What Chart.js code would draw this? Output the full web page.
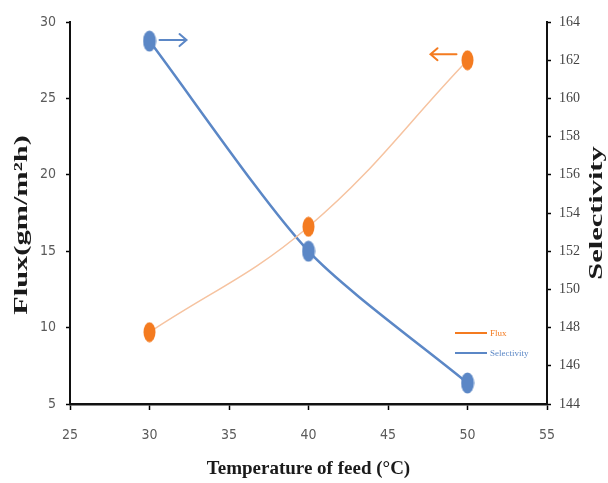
<!DOCTYPE html>
<html>
<head>
<meta charset="utf-8">
<script src="https://cdn.jsdelivr.net/npm/chart.js@4.4.1/dist/chart.umd.min.js"></script>
<style>
html,body{margin:0;padding:0;background:#fff;}
#wrap{width:608px;height:483px;position:relative;}
</style>
</head>
<body>
<div id="wrap"><canvas id="c"></canvas></div>
<script>
const temperatures = [30, 40, 50];
const fluxValues = [9.7, 16.6, 27.5];
const selectivityValues = [163.0, 152.0, 145.1];
const xTicks = [25, 30, 35, 40, 45, 50, 55];
const fluxTicks = [5, 10, 15, 20, 25, 30];
const selectivityTicks = [144, 146, 148, 150, 152, 154, 156, 158, 160, 162, 164];

const ORANGE = '#f47b20';
const ORANGE_LINE = '#f6c3a0';
const BLUE = '#5b87c6';

function ellipse(color, w, h) {
  const c = document.createElement('canvas');
  c.width = w; c.height = h;
  const g = c.getContext('2d');
  g.fillStyle = color;
  g.beginPath();
  g.ellipse(w / 2, h / 2, w / 2 - 0.5, h / 2 - 0.5, 0, 0, Math.PI * 2);
  g.fill();
  return c;
}

function arrow(ctx, x1, x2, y, color, headLeft) {
  ctx.save();
  ctx.strokeStyle = color;
  ctx.lineWidth = 2;
  ctx.lineCap = 'round';
  ctx.beginPath();
  ctx.moveTo(x1, y); ctx.lineTo(x2, y);
  const hx = headLeft ? x1 : x2;
  const d = headLeft ? 1 : -1;
  ctx.moveTo(hx + d * 7, y - 6); ctx.lineTo(hx, y); ctx.lineTo(hx + d * 7, y + 6);
  ctx.stroke();
  ctx.restore();
}

function stretchedTitle(ctx, text, x, y) {
  ctx.save();
  ctx.fillStyle = '#1a1a1a';
  ctx.font = 'bold 19px "Liberation Serif", "Times New Roman", serif';
  ctx.textAlign = 'center';
  ctx.textBaseline = 'middle';
  ctx.translate(x, y);
  ctx.rotate(-Math.PI / 2);
  ctx.scale(1.6, 1);
  ctx.fillText(text, 0, 0);
  ctx.restore();
}

const decor = {
  id: 'decor',
  afterDraw(chart) {
    const ctx = chart.ctx;
    const area = chart.chartArea;
    const mid = (area.top + area.bottom) / 2;
    stretchedTitle(ctx, 'Flux(gm/m²h)', 22, mid + 12);
    stretchedTitle(ctx, 'Selectivity', 597, mid);

    // arrows
    const pf = chart.getDatasetMeta(0).data[2];
    const ps = chart.getDatasetMeta(1).data[0];
    if (pf) arrow(ctx, pf.x - 37, pf.x - 11, pf.y - 6, ORANGE, true);
    if (ps) arrow(ctx, ps.x + 10, ps.x + 37, ps.y - 1, BLUE, false);

    // legend inside plot
    const items = chart.data.datasets.map(d => ({label: d.label, text: d.legendText}));
    ctx.save();
    ctx.font = '9px "Liberation Serif", "Times New Roman", serif';
    ctx.textBaseline = 'middle';
    items.forEach((it, i) => {
      const y = 333 + i * 20;
      ctx.strokeStyle = it.text;
      ctx.lineWidth = 2;
      ctx.beginPath(); ctx.moveTo(455, y); ctx.lineTo(487, y); ctx.stroke();
      ctx.fillStyle = it.text;
      ctx.fillText(it.label, 490, y + 1);
    });
    ctx.restore();
  }
};

const tickFont = {family: '"Liberation Sans Narrow", "DejaVu Sans Condensed", "Liberation Sans", sans-serif', size: 14};

new Chart(document.getElementById('c'), {
  type: 'line',
  data: {
    datasets: [
      {
        label: 'Flux',
        data: temperatures.map((t, i) => ({x: t, y: fluxValues[i]})),
        borderColor: ORANGE_LINE,
        legendText: ORANGE,
        borderWidth: 1.5,
        tension: 0.4,
        pointStyle: ellipse(ORANGE, 13, 21),
        yAxisID: 'y'
      },
      {
        label: 'Selectivity',
        data: temperatures.map((t, i) => ({x: t, y: selectivityValues[i]})),
        borderColor: BLUE,
        legendText: BLUE,
        borderWidth: 2.5,
        tension: 0.25,
        pointStyle: ellipse(BLUE, 14, 22),
        yAxisID: 'y1'
      }
    ]
  },
  options: {
    responsive: true,
    maintainAspectRatio: false,
    animation: false,
    layout: {padding: {top: 22, left: 0, right: 0, bottom: 0}},
    plugins: {legend: {display: false}, tooltip: {enabled: false}},
    scales: {
      x: {
        type: 'linear', min: 25, max: 55,
        afterBuildTicks: s => { s.ticks = xTicks.map(v => ({value: v})); },
        afterFit: s => { s.height = 79; },
        grid: {drawOnChartArea: false, drawTicks: true, color: '#000', tickLength: 6, tickWidth: 1.5},
        border: {display: true, color: '#111', width: 2.5},
        ticks: {color: '#5a5a5a', font: tickFont, padding: 17, maxRotation: 0},
        title: {
          display: true, text: 'Temperature of feed (°C)', color: '#1a1a1a',
          font: {family: '"Liberation Serif", "Times New Roman", serif', size: 19, weight: 'bold'},
          padding: {top: 0, bottom: 3}
        }
      },
      y: {
        type: 'linear', position: 'left', min: 5, max: 30,
        afterBuildTicks: s => { s.ticks = fluxTicks.map(v => ({value: v})); },
        afterFit: s => { s.width = 70; },
        grid: {drawOnChartArea: false, drawTicks: true, color: '#000', tickLength: 4, tickWidth: 1.5},
        border: {display: true, color: '#111', width: 2},
        ticks: {color: '#5a5a5a', font: tickFont, padding: 10}
      },
      y1: {
        type: 'linear', position: 'right', min: 144, max: 164,
        afterBuildTicks: s => { s.ticks = selectivityTicks.map(v => ({value: v})); },
        afterFit: s => { s.width = 61; },
        grid: {drawOnChartArea: false, drawTicks: true, color: '#000', tickLength: 4, tickWidth: 1.5},
        border: {display: true, color: '#111', width: 2},
        ticks: {color: '#444', font: {family: '"Liberation Serif", "Times New Roman", serif', size: 14}, padding: 8}
      }
    }
  },
  plugins: [decor]
});
</script>
</body>
</html>
